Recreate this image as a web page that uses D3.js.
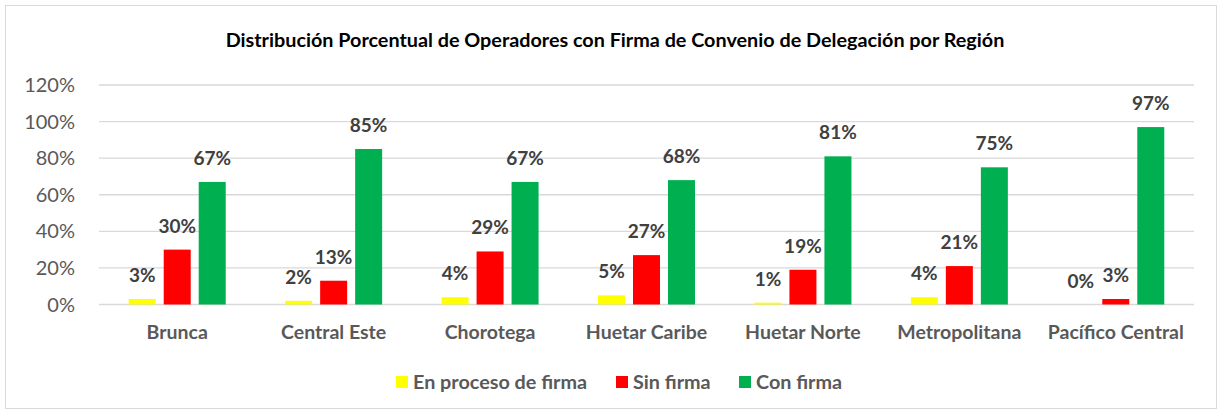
<html lang='en'>
    <head>
        <meta charset='utf-8'>
        <title>Distribución Porcentual</title>
        <script src="https://d3js.org/d3.v7.min.js"></script>
        <style>
            body { margin: 0; background: #fff; }
            text { font-family: Lato, "Open Sans", sans-serif; }
        </style>
    </head>
    <body>
        <script>
            var width = 1222;
            var height = 414;

            // data
            var regions = ['Brunca', 'Central Este', 'Chorotega', 'Huetar Caribe', 'Huetar Norte', 'Metropolitana', 'Pacífico Central'];
            var series = ['En proceso de firma', 'Sin firma', 'Con firma'];
            var enProceso = [3, 2, 4, 5, 1, 4, 0];
            var sinFirma = [30, 13, 29, 27, 19, 21, 3];
            var conFirma = [67, 85, 67, 68, 81, 75, 97];
            var colors = ['#FFFF00', '#FF0000', '#00B050'];
            var yTicks = [0, 20, 40, 60, 80, 100, 120];

            var values = [enProceso, sinFirma, conFirma];

            var svg = d3.select('body')
                        .append('svg')
                        .attr('width', width)
                        .attr('height', height);

            // chart border
            svg.append('rect')
               .attr('x', 5.5).attr('y', 5.5)
               .attr('width', 1211).attr('height', 403)
               .attr('fill', '#fff')
               .attr('stroke', '#d9d9d9');

            svg.append('text')
               .attr('x', 615)
               .attr('y', 47)
               .attr('text-anchor', 'middle')
               .style('font-weight', 'bold')
               .style('font-size', '19.8px')
               .style('fill', '#000')
               .text('Distribución Porcentual de Operadores con Firma de Convenio de Delegación por Región');

            var x = d3.scaleBand()
                      .domain(regions)
                      .range([99, 1194]);

            var y = d3.scaleLinear()
                      .domain([0, 120])
                      .range([304.5, 85]);

            var barW = 27, gap = 8;

            // gridlines
            svg.selectAll('line.grid')
               .data(yTicks)
               .enter()
               .append('line')
               .attr('class', 'grid')
               .attr('x1', 99).attr('x2', 1194)
               .attr('y1', function(d) { return y(d); })
               .attr('y2', function(d) { return y(d); })
               .attr('stroke', '#d9d9d9')
               .attr('stroke-width', 1.3);

            // y axis labels
            svg.selectAll('text.ytick')
               .data(yTicks)
               .enter()
               .append('text')
               .attr('class', 'ytick')
               .attr('x', 75)
               .attr('y', function(d) { return y(d) + 7; })
               .attr('text-anchor', 'end')
               .style('font-size', '20px')
               .style('fill', '#595959')
               .text(function(d) { return d + '%'; });

            // bars + labels per series
            series.forEach(function(s, si) {
                var offset = (si - 1) * (barW + gap);
                var g = svg.append('g');
                g.selectAll('rect')
                 .data(values[si])
                 .enter()
                 .append('rect')
                 .attr('x', function(d, i) { return x(regions[i]) + x.bandwidth() / 2 + offset - barW / 2; })
                 .attr('y', function(d) { return y(d); })
                 .attr('width', barW)
                 .attr('height', function(d) { return y(0) - y(d); })
                 .attr('fill', colors[si]);

                g.selectAll('text')
                 .data(values[si])
                 .enter()
                 .append('text')
                 .attr('x', function(d, i) { return x(regions[i]) + x.bandwidth() / 2 + offset; })
                 .attr('y', function(d) { return y(d) - 17; })
                 .attr('text-anchor', 'middle')
                 .style('font-size', '19px')
                 .style('font-weight', 'bold')
                 .style('fill', '#404040')
                 .text(function(d) { return d + '%'; });
            });

            // category labels
            svg.selectAll('text.xtick')
               .data(regions)
               .enter()
               .append('text')
               .attr('class', 'xtick')
               .attr('x', function(d) { return x(d) + x.bandwidth() / 2; })
               .attr('y', 339)
               .attr('text-anchor', 'middle')
               .style('font-size', '19.5px')
               .style('font-weight', 'bold')
               .style('fill', '#595959')
               .text(function(d) { return d; });

            // legend
            var legendX = [396, 616, 739];
            var legend = svg.selectAll('g.legend')
                            .data(series)
                            .enter()
                            .append('g')
                            .attr('class', 'legend')
                            .attr('transform', function(d, i) { return 'translate(' + legendX[i] + ',376)'; });
            legend.append('rect')
                  .attr('width', 12).attr('height', 12)
                  .attr('fill', function(d, i) { return colors[i]; });
            legend.append('text')
                  .attr('x', 17)
                  .attr('y', 13)
                  .style('font-size', '19.8px')
                  .style('font-weight', 'bold')
                  .style('fill', '#595959')
                  .text(function(d) { return d; });
        </script>
    </body>
</html>
